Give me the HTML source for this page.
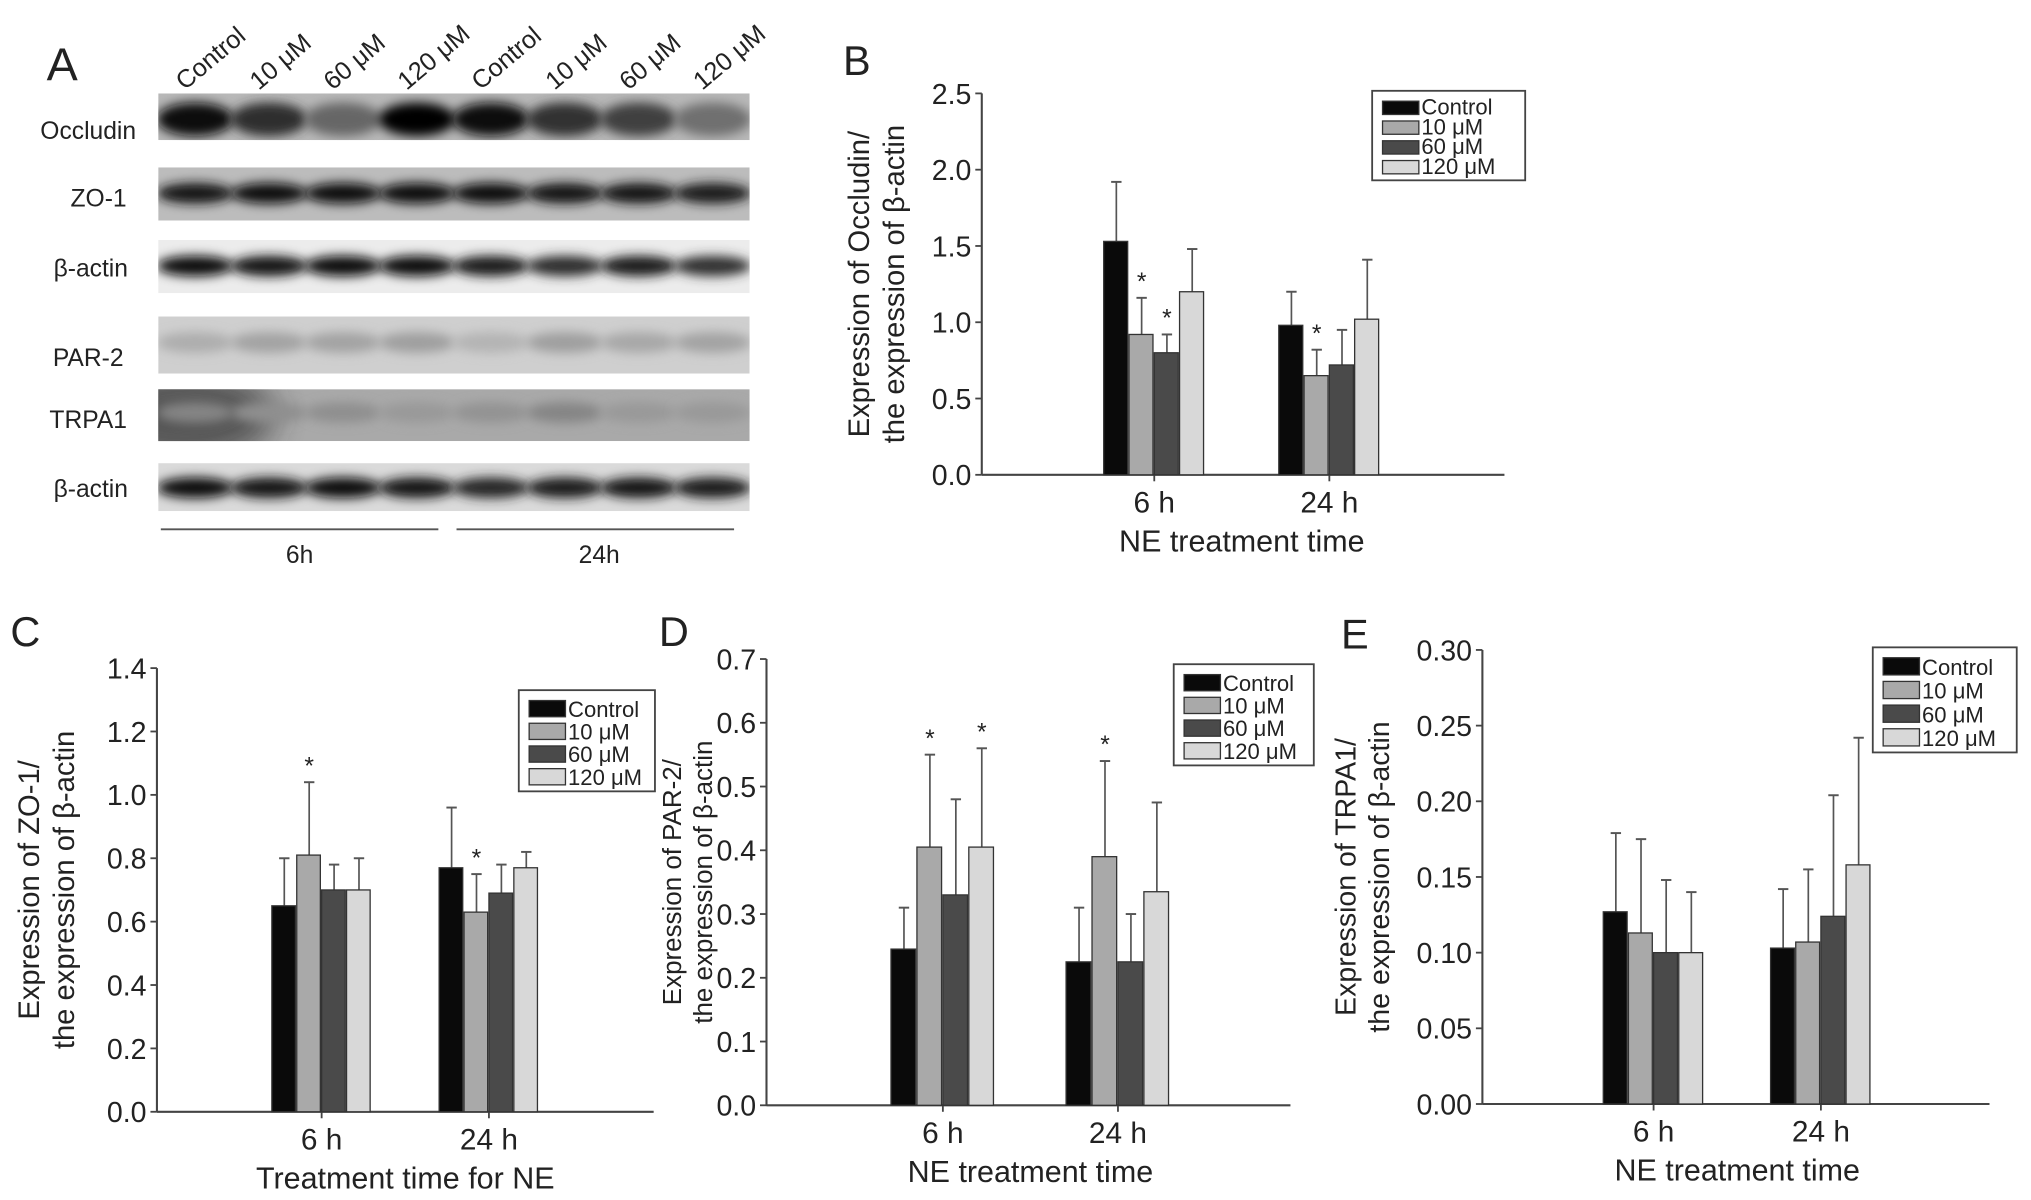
<!DOCTYPE html>
<html><head><meta charset="utf-8"><style>
html,body{margin:0;padding:0;background:#fff;}
svg{display:block;}
text{font-family:"Liberation Sans",Arial,sans-serif;fill:#222;}
</style></head><body>
<svg id="fig" width="2031" height="1200" viewBox="0 0 1566 925" preserveAspectRatio="none" xmlns="http://www.w3.org/2000/svg">
<defs>
<filter id="blur" x="-30%" y="-60%" width="160%" height="220%"><feGaussianBlur stdDeviation="4"/></filter>
<filter id="blur2" x="-50%" y="-50%" width="200%" height="200%"><feGaussianBlur stdDeviation="12"/></filter>
</defs>
<g id="blot"></g>
<g id="charts"></g>
</svg>
<script>
const NS='http://www.w3.org/2000/svg';
function mk(tag,attrs,parent,txt){const e=document.createElementNS(NS,tag);for(const k in attrs)e.setAttribute(k,attrs[k]);if(txt!==undefined)e.textContent=txt;parent.appendChild(e);return e;}

// ---------- Western blot (panel A) ----------
const laneLabels=['Control','10 μM','60 μM','120 μM','Control','10 μM','60 μM','120 μM'];
const blotRows=['Occludin','ZO-1','β-actin','PAR-2','TRPA1','β-actin'];
const occludinBands=[0.95,0.78,0.5,1.0,0.92,0.75,0.68,0.45];
const zo1Bands=[0.9,0.92,0.95,0.95,0.92,0.88,0.88,0.85];
const actin1Bands=[0.95,0.88,0.95,0.92,0.85,0.78,0.85,0.75];
const par2Bands=[0.15,0.2,0.2,0.22,0.12,0.22,0.18,0.2];
const trpa1Bands=[0.35,0.3,0.3,0.25,0.28,0.35,0.25,0.25];
const actin2Bands=[0.95,0.9,0.92,0.88,0.82,0.85,0.88,0.85];
const blotData=[occludinBands,zo1Bands,actin1Bands,par2Bands,trpa1Bands,actin2Bands];
const rowBox=[[72,108,'#b8b8b8'],[129,170,'#bcbcbc'],[185,226,'#ececec'],[244,288,'#cfcfcf'],[300,340,'#a9a9a9'],[357,394,'#dadada']];
const rowBandY=[92,149,205,264,318,376];
const rowLabelY=[107,159,213,282,330,383];
const rowLabelX=[68,76,70,68,68,70];
const blot=document.getElementById('blot');
mk('text',{x:36,y:62,'font-size':36},blot,'A');
const bx0=122,bx1=578,lw=(bx1-bx0)/8;
blotRows.forEach((r,i)=>{
  const [y0,y1,c]=rowBox[i];
  const g=mk('g',{},blot);
  
  
  const cp='cp'+i;
  const defs=mk('clipPath',{id:cp},g);
  mk('rect',{x:bx0,y:y0,width:bx1-bx0,height:y1-y0},defs);
  const inner=mk('g',{'clip-path':`url(#${cp})`},g);
  mk('rect',{x:bx0,y:y0,width:bx1-bx0,height:y1-y0,fill:c},inner);
  if(i===4){mk('ellipse',{cx:bx0+20,cy:y0+20,rx:70,ry:35,fill:'#333',filter:'url(#blur2)',opacity:0.7},inner);}
  blotData[i].forEach((v,j)=>{
    const cx=bx0+lw*(j+0.5);
    const gray=Math.round(255*(1-v)*0.8);
    mk('ellipse',{cx:cx,cy:rowBandY[i],rx:lw*0.52,ry:(i===0?13:8),fill:`rgb(${gray},${gray},${gray})`,filter:'url(#blur)'},inner);
  });
  const t=mk('text',{x:rowLabelX[i],y:rowLabelY[i],'font-size':19,'text-anchor':'middle'},blot,r);
  
  
});
laneLabels.forEach((l,j)=>{
  const cx=bx0+lw*(j+0.5)-8;
  const t=mk('text',{x:cx,y:70,'font-size':19.5,transform:`rotate(-40 ${cx} 70)`},blot,l);
  
  
});
mk('line',{x1:124,y1:408,x2:338,y2:408,stroke:'#555','stroke-width':1.5},blot);
mk('line',{x1:352,y1:408,x2:566,y2:408,stroke:'#555','stroke-width':1.5},blot);
mk('text',{x:231,y:434,'font-size':19,'text-anchor':'middle'},blot,'6h');
mk('text',{x:462,y:434,'font-size':19,'text-anchor':'middle'},blot,'24h');

// ---------- Bar chart data ----------
const groups=['6 h','24 h'];
const seriesNames=['Control','10 μM','60 μM','120 μM'];
const seriesColors=['#0a0a0a','#a9a9a9','#4a4a4a','#d8d8d8'];
// Panel B: Occludin
const occMean6=[1.53,0.92,0.80,1.20];
const occErr6=[1.92,1.16,0.92,1.48];
const occMean24=[0.98,0.65,0.72,1.02];
const occErr24=[1.20,0.82,0.95,1.41];
const occStars=[[0,1],[0,2],[1,1]];
const occTicks=['0.0','0.5','1.0','1.5','2.0','2.5'];
// Panel C: ZO-1
const zoMean6=[0.65,0.81,0.70,0.70];
const zoErr6=[0.80,1.04,0.78,0.80];
const zoMean24=[0.77,0.63,0.69,0.77];
const zoErr24=[0.96,0.75,0.78,0.82];
const zoStars=[[0,1],[1,1]];
const zoTicks=['0.0','0.2','0.4','0.6','0.8','1.0','1.2','1.4'];
// Panel D: PAR-2
const parMean6=[0.245,0.405,0.33,0.405];
const parErr6=[0.31,0.55,0.48,0.56];
const parMean24=[0.225,0.39,0.225,0.335];
const parErr24=[0.31,0.54,0.30,0.475];
const parStars=[[0,1],[0,3],[1,1]];
const parTicks=['0.0','0.1','0.2','0.3','0.4','0.5','0.6','0.7'];
// Panel E: TRPA1
const trpMean6=[0.127,0.113,0.100,0.100];
const trpErr6=[0.179,0.175,0.148,0.140];
const trpMean24=[0.103,0.107,0.124,0.158];
const trpErr24=[0.142,0.155,0.204,0.242];
const trpStars=[];
const trpTicks=['0.00','0.05','0.10','0.15','0.20','0.25','0.30'];

const charts=document.getElementById('charts');
function drawChart(o){
  const g=mk('g',{},charts);
  
  
  const ymax=parseFloat(o.ticks[o.ticks.length-1]);
  const Y=v=>o.y0-(v/ymax)*(o.y0-o.yTop);
  const X=(gi,si)=>o.gx[gi]+(si-2)*o.bw;
  mk('text',{x:o.letter[0],y:o.letter[1],'font-size':32},g,o.label);
  mk('line',{x1:o.x0,y1:o.yTop,x2:o.x0,y2:o.y0,stroke:'#444','stroke-width':1.6},g);
  mk('line',{x1:o.x0,y1:o.y0,x2:o.xEnd,y2:o.y0,stroke:'#444','stroke-width':1.6},g);
  o.ticks.forEach(t=>{
    const y=Y(parseFloat(t));
    mk('line',{x1:o.x0-5,y1:y,x2:o.x0,y2:y,stroke:'#444','stroke-width':1.4},g);
    const tx=mk('text',{x:o.x0-8,y:y+8,'font-size':22,'text-anchor':'end'},g,t);
    
    
  });
  const means=[o.m6,o.m24],errs=[o.e6,o.e24];
  groups.forEach((gn,gi)=>{
    mk('line',{x1:o.gx[gi],y1:o.y0,x2:o.gx[gi],y2:o.y0+5,stroke:'#444','stroke-width':1.4},g);
    const tx=mk('text',{x:o.gx[gi],y:o.y0+29,'font-size':23,'text-anchor':'middle'},g,gn);
    
    
    seriesNames.forEach((sn,si)=>{
      const x=X(gi,si),v=means[gi][si],e=errs[gi][si];
      const cx=x+o.bw/2;
      mk('line',{x1:cx,y1:Y(v),x2:cx,y2:Y(e),stroke:'#555','stroke-width':1.3},g);
      mk('line',{x1:cx-4,y1:Y(e),x2:cx+4,y2:Y(e),stroke:'#555','stroke-width':1.5},g);
      const r=mk('rect',{x:x,y:Y(v),width:o.bw-1,height:o.y0-Y(v),fill:seriesColors[si],stroke:'#333','stroke-width':1},g);
      
      
    });
  });
  o.stars.forEach(([gi,si])=>{
    const cx=X(gi,si)+o.bw/2;
    const s=mk('text',{x:cx,y:Y(errs[gi][si])-6,'font-size':19,'text-anchor':'middle'},g,'*');
    
    
  });
  const ty=(o.y0+o.yTop)/2;
  const t1=mk('text',{x:o.yt[0],y:ty,'font-size':o.ytSize,'text-anchor':'middle',transform:`rotate(-90 ${o.yt[0]} ${ty})`},g,o.ytitle1);
  
  const t2=mk('text',{x:o.yt[1],y:ty,'font-size':o.ytSize,'text-anchor':'middle',transform:`rotate(-90 ${o.yt[1]} ${ty})`},g,'the expression of β-actin');
  
  const xt=mk('text',{x:(o.gx[0]+o.gx[1])/2,y:o.y0+59,'font-size':23.5,'text-anchor':'middle'},g,o.xtitle);
  
  const [lx,ly,lw2,lh]=o.legend;
  const lg=mk('g',{},g);
  
  
  mk('rect',{x:lx,y:ly,width:lw2,height:lh,fill:'#fff',stroke:'#444','stroke-width':1.4},lg);
  const step=(lh-8)/4;
  seriesNames.forEach((sn,si)=>{
    const yy=ly+5+step*si;
    const e=mk('rect',{x:lx+8,y:yy+3,width:28,height:step-5,fill:seriesColors[si],stroke:'#333','stroke-width':1},lg);
    
    
    mk('text',{x:lx+38,y:yy+step-2,'font-size':17},lg,sn);
  });
}
drawChart({name:'occludin-chart',label:'B',letter:[650,58],x0:757,xEnd:1160,y0:366,yTop:72,gx:[890,1025],bw:19.5,
  m6:occMean6,e6:occErr6,m24:occMean24,e24:occErr24,stars:occStars,ticks:occTicks,
  ytitle1:'Expression of Occludin/',yt:[670,697],ytSize:22.5,xtitle:'NE treatment time',legend:[1058,70,118,69]});
drawChart({name:'zo1-chart',label:'C',letter:[8,498],x0:121,xEnd:504,y0:857,yTop:515,gx:[248,377],bw:19.2,
  m6:zoMean6,e6:zoErr6,m24:zoMean24,e24:zoErr24,stars:zoStars,ticks:zoTicks,
  ytitle1:'Expression of ZO-1/',yt:[30,57],ytSize:22.5,xtitle:'Treatment time for NE',legend:[400,532,105,78]});
drawChart({name:'par2-chart',label:'D',letter:[508,498],x0:591,xEnd:995,y0:852,yTop:508,gx:[727,862],bw:20,
  m6:parMean6,e6:parErr6,m24:parMean24,e24:parErr24,stars:parStars,ticks:parTicks,
  ytitle1:'Expression of PAR-2/',yt:[525,549],ytSize:20,xtitle:'NE treatment time',legend:[905,512,108,78]});
drawChart({name:'trpa1-chart',label:'E',letter:[1034,500],x0:1143,xEnd:1534,y0:851,yTop:501,gx:[1275,1404],bw:19.4,
  m6:trpMean6,e6:trpErr6,m24:trpMean24,e24:trpErr24,stars:trpStars,ticks:trpTicks,
  ytitle1:'Expression of TRPA1/',yt:[1045,1071],ytSize:22,xtitle:'NE treatment time',legend:[1444,499,111,81]});
</script>
</body></html>
